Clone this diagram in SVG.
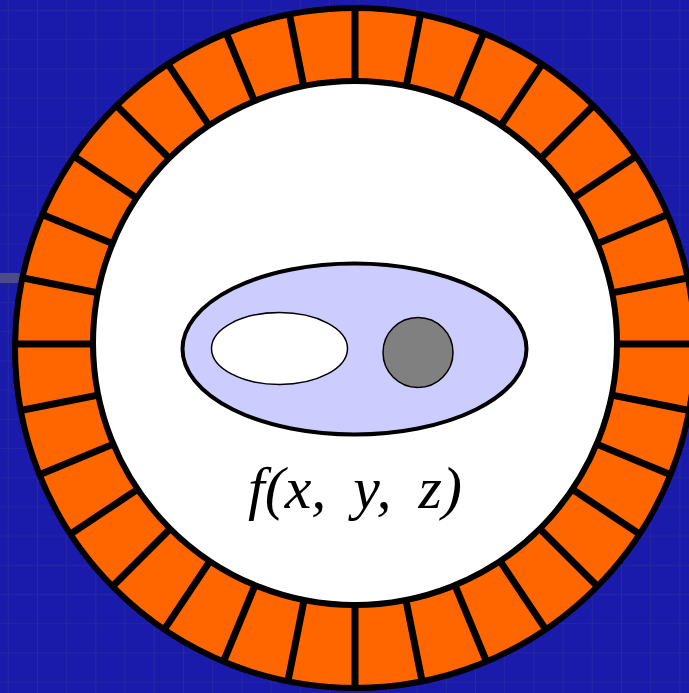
<svg xmlns="http://www.w3.org/2000/svg" width="689" height="693" viewBox="0 0 689 693">
  <style>
    .tick { stroke: #000; stroke-width: 7; }
    .label { font-family: "Liberation Serif", "Times New Roman", serif; font-style: italic; font-size: 60px; fill: #000; word-spacing: 12px; }
  </style>
  <defs>
    <pattern id="grid" patternUnits="userSpaceOnUse" x="37" y="10" width="29.2" height="29.2">
      <path d="M0 0 H29.2 M0 0 V29.2" fill="none" stroke="#30309c" stroke-width="1.2"/>
    </pattern>
    <clipPath id="outerClip">
      <circle cx="355" cy="348" r="340"/>
    </clipPath>
    <line id="tk" class="tick" x1="355" y1="100" x2="355" y2="-10"/>
  </defs>

  <g id="background">
    <rect x="0" y="0" width="689" height="693" fill="#1a1aab"/>
    <rect x="0" y="0" width="689" height="693" fill="url(#grid)"/>
    <rect x="0" y="273" width="60" height="10" fill="#4c4c88"/>
  </g>

  <g id="ring">
    <circle cx="355" cy="348" r="340" fill="#ff6600"/>
    <g clip-path="url(#outerClip)">
      <use href="#tk" transform="rotate(0 355 344)"/>
      <use href="#tk" transform="rotate(11.25 355 344)"/>
      <use href="#tk" transform="rotate(22.5 355 344)"/>
      <use href="#tk" transform="rotate(33.75 355 344)"/>
      <use href="#tk" transform="rotate(45 355 344)"/>
      <use href="#tk" transform="rotate(56.25 355 344)"/>
      <use href="#tk" transform="rotate(67.5 355 344)"/>
      <use href="#tk" transform="rotate(78.75 355 344)"/>
      <use href="#tk" transform="rotate(90 355 344)"/>
      <use href="#tk" transform="rotate(101.25 355 344)"/>
      <use href="#tk" transform="rotate(112.5 355 344)"/>
      <use href="#tk" transform="rotate(123.75 355 344)"/>
      <use href="#tk" transform="rotate(135 355 344)"/>
      <use href="#tk" transform="rotate(146.25 355 344)"/>
      <use href="#tk" transform="rotate(157.5 355 344)"/>
      <use href="#tk" transform="rotate(168.75 355 344)"/>
      <use href="#tk" transform="rotate(180 355 344)"/>
      <use href="#tk" transform="rotate(191.25 355 344)"/>
      <use href="#tk" transform="rotate(202.5 355 344)"/>
      <use href="#tk" transform="rotate(213.75 355 344)"/>
      <use href="#tk" transform="rotate(225 355 344)"/>
      <use href="#tk" transform="rotate(236.25 355 344)"/>
      <use href="#tk" transform="rotate(247.5 355 344)"/>
      <use href="#tk" transform="rotate(258.75 355 344)"/>
      <use href="#tk" transform="rotate(270 355 344)"/>
      <use href="#tk" transform="rotate(281.25 355 344)"/>
      <use href="#tk" transform="rotate(292.5 355 344)"/>
      <use href="#tk" transform="rotate(303.75 355 344)"/>
      <use href="#tk" transform="rotate(315 355 344)"/>
      <use href="#tk" transform="rotate(326.25 355 344)"/>
      <use href="#tk" transform="rotate(337.5 355 344)"/>
      <use href="#tk" transform="rotate(348.75 355 344)"/>
    </g>
    <circle cx="355" cy="348" r="340" fill="none" stroke="#000" stroke-width="6"/>
    <circle cx="355" cy="343" r="262" fill="#ffffff" stroke="#000" stroke-width="6"/>
  </g>

  <g id="outer-ellipse">
    <ellipse cx="354.5" cy="349" rx="172" ry="85.5" fill="#ccccff" stroke="#000" stroke-width="4"/>
  </g>
  <g id="white-ellipse">
    <ellipse cx="279.5" cy="348.5" rx="68" ry="36" fill="#ffffff" stroke="#000" stroke-width="1.5"/>
  </g>
  <g id="gray-circle">
    <circle cx="418" cy="352.5" r="35" fill="#808080" stroke="#000" stroke-width="1.5"/>
  </g>
  <g id="formula">
    <text class="label" x="248" y="508">f(x, y, z)</text>
  </g>
</svg>
